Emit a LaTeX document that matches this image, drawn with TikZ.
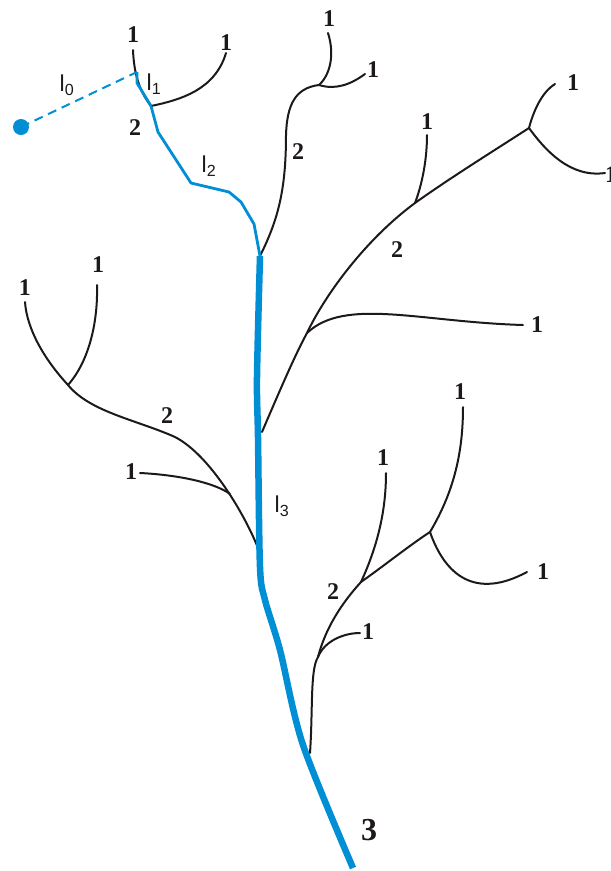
\documentclass[tikz,border=0pt]{standalone}
\usepackage{fontspec}
\setmainfont{Liberation Serif}
\newfontfamily\segfont{Liberation Sans}
\usetikzlibrary{positioning}
\definecolor{riverblue}{RGB}{0,142,212}
\definecolor{streamblack}{RGB}{30,25,25}

\begin{document}
\begin{tikzpicture}[
    x=1pt, y=-1pt,
    stream/.style={draw=streamblack, line width=2pt, line cap=round, line join=round},
    upper/.style={draw=riverblue, line width=2.8pt, line join=round},
    mainstem/.style={draw=riverblue, line width=6.5pt, line join=round},
    order/.style={font=\fontsize{24}{26}\selectfont\bfseries, text=streamblack, inner sep=0pt},
    seglabel/.style={font=\segfont\fontsize{23}{25}\selectfont, text=streamblack, inner sep=0pt}
]
\useasboundingbox (0,0) rectangle (611,871);

% junctions
\coordinate (src) at (21,127);
\coordinate (j0) at (137,72);
\coordinate (j1) at (151,106);
\coordinate (j2) at (260,256);
\coordinate (jA) at (319,85);
\coordinate (jB) at (307,333);
\coordinate (jC) at (415,203);
\coordinate (jD) at (529,128);
\coordinate (jE) at (262,432);
\coordinate (jF) at (68,385);
\coordinate (jG) at (230,494);
\coordinate (jH) at (258,548);
\coordinate (jI) at (310,753);
\coordinate (jJ) at (318,657);
\coordinate (jK) at (361,582);
\coordinate (jL) at (430,532);
\coordinate (mouth) at (353,868);

% black streams
\draw[stream] (133,50) .. controls (134,75) and (140,92) .. (j1);
\draw[stream] (226,53) .. controls (215,90) and (180,100) .. (j1);
\draw[stream] (328,33) .. controls (335,55) and (330,75) .. (jA);
\draw[stream] (jA) .. controls (335,90) and (350,85) .. (365,74);
\draw[stream] (jA) .. controls (295,88) and (287,105) .. (286,135)
    .. controls (286,190) and (278,220) .. (j2);
\draw[stream] (jE) .. controls (280,390) and (295,355) .. (jB)
    .. controls (325,295) and (365,240) .. (jC)
    .. controls (450,178) and (495,150) .. (jD);
\draw[stream] (427,135) .. controls (427,165) and (420,190) .. (jC);
\draw[stream] (jD) .. controls (535,105) and (545,90) .. (555,84);
\draw[stream] (jD) .. controls (545,150) and (570,178) .. (605,173);
\draw[stream] (jB) .. controls (345,297) and (420,322) .. (523,325);
\draw[stream] (jH) .. controls (245,515) and (210,455) .. (175,437)
    .. controls (137,420) and (90,412) .. (jF);
\draw[stream] (jF) .. controls (45,360) and (27,330) .. (25,302);
\draw[stream] (jF) .. controls (90,360) and (98,320) .. (97,285);
\draw[stream] (140,473) .. controls (180,475) and (215,483) .. (jG);
\draw[stream] (jI) .. controls (313,710) and (310,670) .. (jJ)
    .. controls (325,630) and (340,605) .. (jK)
    .. controls (385,565) and (410,545) .. (jL);
\draw[stream] (jJ) .. controls (325,640) and (345,633) .. (360,633);
\draw[stream] (jK) .. controls (378,545) and (386,510) .. (386,473);
\draw[stream] (jL) .. controls (455,490) and (463,450) .. (463,407);
\draw[stream] (jL) .. controls (445,575) and (475,600) .. (527,572);

% blue path
\fill[riverblue] (src) circle (8pt);
\draw[riverblue, line width=2pt, dash pattern=on 9pt off 6pt] (src) -- (j0);
\draw[upper] (j0) -- (137,83) -- (j1);
\draw[upper] (j1) -- (158,132) -- (191,183) -- (229,192) -- (241,202) -- (254,224) -- (j2);
\draw[mainstem] plot[smooth, tension=0.5] coordinates {(j2) (257,377) (258,437) (260,567) (265,600) (280,650) (303,745) (mouth)};

% stream orders
\node[order] at (133,35) {1};
\node[order] at (226,43) {1};
\node[order] at (135,128) {2};
\node[order] at (329,19) {1};
\node[order] at (373,70) {1};
\node[order] at (298,152) {2};
\node[order] at (427,122) {1};
\node[order] at (573,83) {1};
\node[order, anchor=west] at (605,175) {1};
\node[order] at (397,250) {2};
\node[order] at (537,325) {1};
\node[order] at (25,288) {1};
\node[order] at (98,265) {1};
\node[order] at (167,416) {2};
\node[order] at (131,472) {1};
\node[order] at (383,458) {1};
\node[order] at (460,392) {1};
\node[order] at (543,572) {1};
\node[order] at (368,632) {1};
\node[order] at (333,592) {2};
\node[order, font=\fontsize{32}{34}\selectfont\bfseries] at (369,830) {3};

% segment labels
\node[seglabel] at (67,85) {l\textsubscript{0}};
\node[seglabel] at (154,84) {l\textsubscript{1}};
\node[seglabel] at (209,166) {l\textsubscript{2}};
\node[seglabel] at (282,506) {l\textsubscript{3}};
\end{tikzpicture}
\end{document}
